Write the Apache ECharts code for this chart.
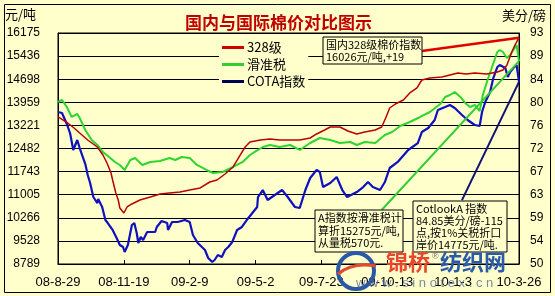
<!DOCTYPE html>
<html>
<head>
<meta charset="utf-8">
<script src="https://cdn.jsdelivr.net/npm/echarts@6/dist/echarts.min.js"></script>
<style>
html,body{margin:0;padding:0;background:#FFFFCC;}
#c{width:555px;height:296px;}
</style>
</head>
<body>
<div id="c"></div>
<script>
// ---- data (x = days since 08-8-29) ----
const dateLabels = ['08-8-29','08-11-19','09-2-9','09-5-2','09-7-23','09-10-13','10-1-3','10-3-26'];
const leftTicks = [8789, 16175];   // min / max of 元/吨 axis
const rightTicks = [50, 93];       // min / max of 美分/磅 axis

const redDays = [0,6,12,20,27,37,49,56,61,66,68,72,75,77,82,86,92,102,115,127,139,152,164,177,189,198,208,218,227,233,239,252,264,276,289,301,314,322,332,339,351,361,372,382,395,403,408,413,420,430,438,447,453,463,478,488,498,508,519,534,547,554,559,565,569,574];
const redVals = [13490,13394,13298,13138,12978,12754,12530,12275,12019,11699,11475,11060,10836,10580,10420,10612,10708,10836,10932,11028,11060,11092,11156,11220,11411,11475,11667,11891,12275,12530,12690,12754,12786,12754,12754,12754,12818,12946,13074,13170,13170,13042,12946,13010,13074,13170,13458,13777,13905,14033,14257,14417,14672,14736,14768,14832,14896,14864,14896,14864,14928,14992,15152,15568,15791,16026];

const greenDays = [0,5,11,17,24,27,34,42,49,56,65,71,77,83,90,96,105,115,127,139,146,154,164,173,185,193,205,218,230,239,245,255,264,276,289,301,314,326,339,351,364,372,382,395,407,416,426,438,451,463,476,482,488,494,501,507,513,519,525,529,534,540,547,550,554,559,563,567,571,574];
const greenVals = [13969,14033,13809,13490,13585,13458,13074,12754,12594,12371,12179,12051,11955,11795,12115,12179,11955,12051,12083,12179,12115,12211,12179,11955,11795,11699,11731,11891,12051,12275,12371,12530,12594,12530,12594,12435,12658,12818,12754,12658,12690,12594,12690,12658,12914,13010,13202,13330,13490,13649,13905,14129,14193,14289,14129,13937,13809,13873,13681,14193,14608,15056,15568,15632,15568,15376,15472,15632,15791,15275];

const blueDays = [0,5,11,15,19,24,27,34,37,40,44,49,50,55,59,62,68,73,77,81,83,87,92,95,98,100,103,106,111,121,123,129,136,137,142,149,158,164,168,174,183,187,192,195,199,204,208,212,217,223,229,235,242,248,249,255,261,270,279,286,295,301,308,314,322,326,330,339,347,354,360,372,380,386,392,401,407,413,423,436,448,453,461,469,473,482,488,494,503,510,519,525,528,532,538,542,547,550,557,560,563,567,571,574];
const blueVals = [78.29,78.11,76.06,74.38,71.22,73.08,71.59,68.61,66.57,65.08,62.47,61.35,62.10,60.61,58.19,57.63,56.33,54.84,53.54,53.16,52.23,53.54,57.26,57.63,55.77,53.91,55.03,54.47,55.96,55.96,56.89,58.00,57.63,56.33,57.82,57.82,58.19,57.82,55.40,53.91,52.61,51.12,50.37,50.74,51.67,51.30,52.61,53.16,54.09,56.33,56.89,58.19,59.49,60.61,62.47,63.77,61.91,62.84,63.77,62.47,60.61,60.42,63.77,66.01,67.50,67.13,64.33,65.08,66.19,63.77,62.47,63.40,64.33,65.26,64.33,63.77,65.26,67.87,68.99,71.22,72.52,74.57,75.32,76.80,78.67,79.22,79.60,79.04,77.74,76.80,75.87,75.69,78.29,80.16,82.02,84.62,86.67,87.04,86.48,84.81,85.74,86.48,87.04,83.9];

// annotation leader lines: [startDay, startValue] -> last data point
const redLeaderStart = [453, 15600];
const greenLeaderStart = [403, 10516];
const blueLeaderStart = [503, 61.9];

const seriesNames = ['328级','滑准税','COTA指数'];
const boxTexts = [
  '国内328级棉价指数\n16026元/吨,+19',
  'A指数按滑准税计\n算折15275元/吨,\n从量税570元.',
  'CotlookA 指数\n84.85美分/磅-115\n点,按1%关税折口\n岸价14775元/吨.'
];

const zip = (a, b) => a.map((d, i) => [d, b[i]]);
const last = (a, b) => [a[a.length - 1], b[b.length - 1]];

const chart = echarts.init(document.getElementById('c'), null, {renderer: 'canvas'});
const CJK = '"Noto Sans CJK SC", sans-serif';
const LAT = '"Liberation Sans", Arial, sans-serif';
const span = 82;

const box = (x, y, w, h, txt, ty, lh, fs) => ([
  {type: 'rect', z: 100, shape: {x: x, y: y, width: w, height: h}, style: {fill: '#FFFFCC', stroke: '#000', lineWidth: 1}},
  {type: 'text', z: 101, x: x + 3, y: ty, style: {text: txt, fill: '#000', font: fs + 'px ' + CJK, lineHeight: lh, verticalAlign: 'top'}}
]);

chart.setOption({
  animation: false,
  backgroundColor: '#FFFFCC',
  title: {
    text: '国内与国际棉价对比图示', left: 180, top: 9,
    textStyle: {color: '#C00000', fontSize: 17, fontWeight: 'bold', fontFamily: CJK}
  },
  legend: {
    orient: 'vertical', left: 219, top: 39, padding: [2, 3],
    backgroundColor: '#FFFFCC', icon: 'rect', itemWidth: 22, itemHeight: 3, itemGap: 4,
    textStyle: {fontSize: 13, color: '#000', fontFamily: CJK, lineHeight: 13, padding: [0, 0, 0, -2]},
    data: [
      {name: seriesNames[0], itemStyle: {color: '#D00000'}},
      {name: seriesNames[1], itemStyle: {color: '#33CC33'}},
      {name: seriesNames[2], itemStyle: {color: '#000050'}}
    ]
  },
  grid: {left: 58, right: 36, top: 33, bottom: 32, show: true, backgroundColor: '#FFFFCC', borderColor: '#000', borderWidth: 1},
  xAxis: {
    type: 'value', min: 0, max: span * (dateLabels.length - 1), interval: span,
    axisLine: {lineStyle: {color: '#000', width: 1}},
    axisTick: {inside: true, length: 4, lineStyle: {color: '#000'}},
    axisLabel: {formatter: v => dateLabels[Math.round(v / span)], fontSize: 13, color: '#000', margin: 12, fontFamily: LAT, showMinLabel: true, showMaxLabel: true},
    splitLine: {show: false}
  },
  yAxis: [
    {
      type: 'value', position: 'left', min: leftTicks[0], max: leftTicks[1], interval: (leftTicks[1] - leftTicks[0]) / 10,
      axisLine: {show: true, lineStyle: {color: '#000'}}, axisTick: {show: false},
      axisLabel: {formatter: v => String(Math.round(v + 1e-6)), fontSize: 12, color: '#000', margin: 18, fontFamily: LAT},
      splitLine: {show: true, lineStyle: {color: '#000', width: 1}}
    },
    {
      type: 'value', position: 'right', min: rightTicks[0], max: rightTicks[1], interval: (rightTicks[1] - rightTicks[0]) / 10,
      axisLine: {show: true, lineStyle: {color: '#000'}}, axisTick: {show: false},
      axisLabel: {formatter: v => String(Math.round(v + 1e-6)), fontSize: 12, color: '#000', margin: 11, fontFamily: LAT},
      splitLine: {show: false}
    }
  ],
  series: [
    {name: seriesNames[1], type: 'line', yAxisIndex: 0, data: zip(greenDays, greenVals), symbol: 'none', lineStyle: {color: '#2FD52F', width: 2}, itemStyle: {color: '#33CC33'}, z: 3},
    {name: seriesNames[0], type: 'line', yAxisIndex: 0, data: zip(redDays, redVals), symbol: 'none', lineStyle: {color: '#B80000', width: 1.5}, itemStyle: {color: '#D00000'}, z: 4},
    {name: seriesNames[2], type: 'line', yAxisIndex: 1, data: zip(blueDays, blueVals), symbol: 'none', lineStyle: {color: '#1010C0', width: 2.2}, itemStyle: {color: '#000050'}, z: 3},
    {name: 'leaderRed', type: 'line', yAxisIndex: 0, data: [redLeaderStart, last(redDays, redVals)], symbol: 'none', silent: true, lineStyle: {color: '#E00000', width: 2.5}, z: 5},
    {name: 'leaderGreen', type: 'line', yAxisIndex: 0, data: [greenLeaderStart, last(greenDays, greenVals)], symbol: 'none', silent: true, lineStyle: {color: '#33CC33', width: 2}, z: 5},
    {name: 'leaderBlue', type: 'line', yAxisIndex: 1, data: [blueLeaderStart, last(blueDays, blueVals)], symbol: 'none', silent: true, lineStyle: {color: '#101070', width: 2}, z: 5}
  ],
  graphic: [
    {type: 'rect', z: 0, shape: {x: 4.5, y: 4.5, width: 546, height: 288}, style: {fill: 'none', stroke: '#000', lineWidth: 1}},
    {type: 'text', x: 5, y: 8, style: {text: '元/吨', font: '13px ' + CJK, fill: '#000'}},
    {type: 'text', x: 502, y: 9, style: {text: '美分/磅', font: '13px ' + CJK, fill: '#000'}},
    ...box(323, 37, 99, 27, boxTexts[0], 39, 12, 11),
    ...box(315, 210, 88, 42, boxTexts[1], 212, 12.5, 11),
    ...box(413, 201, 94, 51, boxTexts[2], 203, 12, 11),
    {type: 'circle', z: 110, shape: {cx: 356, cy: 271, r: 18}, style: {fill: 'none', stroke: '#2A58A8', lineWidth: 4}},
    {type: 'bezierCurve', z: 110, shape: {x1: 338, y1: 274, cpx1: 352, cpy1: 262, x2: 376, y2: 266}, style: {stroke: '#E04A30', lineWidth: 3, fill: 'none'}},
    {type: 'text', z: 110, x: 386, y: 251, style: {text: '锦桥', font: 'bold 22px ' + CJK, fill: '#E8472E'}},
    {type: 'text', z: 110, x: 432, y: 252, style: {text: '®', font: '9px ' + LAT, fill: '#777'}},
    {type: 'text', z: 110, x: 440, y: 251, style: {text: '纺织网', font: 'bold 22px ' + CJK, fill: '#2A5AAA'}},
    {type: 'text', z: 110, x: 356, y: 277, style: {text: 'w w w . s i n o t e x . c n', font: '13px ' + LAT, fill: 'rgba(80,100,150,0.75)'}}
  ]
});
</script>
</body>
</html>
